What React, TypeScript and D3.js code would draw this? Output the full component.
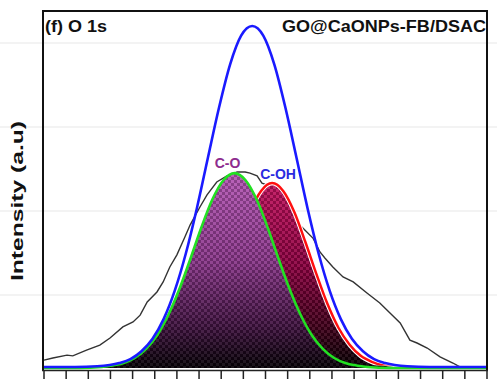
import React from "react";
import * as d3 from "d3";

// Binding energy (eV) and intensity (a.u.)
const envBE = [536, 535.3, 534.8, 534.3, 534.05, 533.8, 533.55, 533.3, 533.05, 532.8, 532.55, 532.3, 532.05, 531.8, 531.55, 531.3, 531.05, 530.8, 530.55, 530.3, 530.05, 529.8, 529.55, 529.3, 529.05, 528.8, 528.55, 528.3, 527.8, 527.3, 526];
const envI = [3, 3, 5, 14, 25, 47, 82, 137, 216, 320, 447, 589, 729, 850, 931, 958, 931, 850, 729, 589, 447, 320, 216, 137, 82, 47, 25, 14, 5, 3, 3];

const coBE = [536, 535.2, 534.7, 534.45, 534.2, 533.95, 533.7, 533.45, 533.2, 532.95, 532.7, 532.45, 532.2, 531.95, 531.7, 531.45, 531.2, 530.95, 530.7, 530.45, 530.2, 529.95, 529.7, 529.45, 529.2, 528.95, 528.7, 528.2, 526];
const coI = [0, 0, 3, 7, 14, 28, 53, 91, 147, 219, 304, 393, 472, 526, 546, 526, 472, 393, 304, 219, 147, 91, 53, 28, 14, 7, 3, 0, 0];

const cohBE = [536, 534.1, 533.6, 533.35, 533.1, 532.85, 532.6, 532.35, 532.1, 531.85, 531.6, 531.35, 531.1, 530.85, 530.6, 530.35, 530.1, 529.85, 529.6, 529.35, 529.1, 528.85, 528.6, 528.35, 528.1, 527.6, 526];
const cohI = [0, 0, 3, 7, 17, 34, 65, 112, 179, 263, 353, 437, 496, 518, 496, 437, 353, 263, 179, 112, 65, 34, 17, 7, 3, 0, 0];

const expBE = [536.0, 535.8, 535.48, 535.35, 535.04, 534.74, 534.51, 534.22, 533.99, 533.83, 533.67, 533.45, 533.31, 533.16, 533.0, 532.82, 532.7, 532.48, 532.32, 532.1, 531.87, 531.64, 531.46, 531.35, 531.19, 531.08, 530.97, 530.79, 530.56, 530.38, 530.18, 529.93, 529.77, 529.66, 529.48, 529.25, 529.02, 528.71, 528.42, 528.19, 527.96, 527.74, 527.58, 527.35, 527.06, 526.77, 526.61, 526.38, 526.2, 526.0];
const expI = [22, 28, 36, 34, 50, 64, 84, 115, 129, 148, 185, 213, 241, 283, 317, 367, 401, 451, 485, 521, 538, 549, 549, 546, 538, 518, 513, 501, 462, 423, 395, 364, 325, 308, 283, 255, 241, 210, 182, 154, 126, 78, 70, 56, 31, 14, 3, 3, 0, 0];

const tickBE = d3.range(0, 21).map((k) => 536 - k * 0.5);
const gridY = [43, 127, 211, 295];

const FONT = "'Liberation Sans', Arial, Helvetica, sans-serif";

export default function App() {
  const x = d3.scaleLinear().domain([536, 526]).range([44, 487]);
  const y = d3.scaleLinear().domain([0, 1000]).range([368, 11]);

  const pts = (be: number[], it: number[]) => be.map((b, i) => [b, it[i]] as [number, number]);
  const env = pts(envBE, envI);
  const co = pts(coBE, coI);
  const coh = pts(cohBE, cohI);
  const exp = pts(expBE, expI);

  const line = d3
    .line<[number, number]>()
    .x((d) => x(d[0]))
    .y((d) => y(d[1]))
    .curve(d3.curveMonotoneX);
  const expLine = d3
    .line<[number, number]>()
    .x((d) => x(d[0]))
    .y((d) => y(d[1]))
    .curve(d3.curveLinear);
  const area = d3
    .area<[number, number]>()
    .x((d) => x(d[0]))
    .y0(y(0))
    .y1((d) => y(d[1]))
    .curve(d3.curveMonotoneX);

  const coPeak = co.reduce((a, b) => (b[1] > a[1] ? b : a));
  const cohPeak = coh.reduce((a, b) => (b[1] > a[1] ? b : a));

  return (
    <svg
      width={497}
      height={379}
      style={{ position: "absolute", left: 0, top: 0, background: "#fff" }}
    >
      <defs>
        <linearGradient id="gCO" x1="0" y1="0" x2="0" y2="1">
          <stop offset="0" stopColor="#b456b4" />
          <stop offset="0.45" stopColor="#8a368a" />
          <stop offset="0.8" stopColor="#3c103c" />
          <stop offset="1" stopColor="#050005" />
        </linearGradient>
        <linearGradient id="gCOH" x1="0" y1="0" x2="0" y2="1">
          <stop offset="0" stopColor="#c2125e" />
          <stop offset="0.45" stopColor="#8c0040" />
          <stop offset="0.8" stopColor="#3c0018" />
          <stop offset="1" stopColor="#050002" />
        </linearGradient>
        <pattern id="checker" width={6} height={6} patternUnits="userSpaceOnUse">
          <rect x={0} y={0} width={3} height={3} fill="rgba(0,0,0,0.22)" />
          <rect x={3} y={3} width={3} height={3} fill="rgba(0,0,0,0.22)" />
          <rect x={3} y={0} width={3} height={3} fill="rgba(255,255,255,0.08)" />
          <rect x={0} y={3} width={3} height={3} fill="rgba(255,255,255,0.08)" />
        </pattern>
        <clipPath id="aboveBase">
          <rect x={0} y={0} width={497} height={365.5} />
        </clipPath>
      </defs>

      {gridY.map((g) => (
        <line key={g} x1={0} x2={497} y1={g} y2={g} stroke="#efefef" strokeWidth={1.5} />
      ))}

      <path d={expLine(exp) || ""} fill="none" stroke="#333" strokeWidth={1.4} />

      <path d={area(coh) || ""} fill="url(#gCOH)" />
      <path d={area(coh) || ""} fill="url(#checker)" />
      <g clipPath="url(#aboveBase)">
        <path d={line(coh) || ""} fill="none" stroke="#fff" strokeWidth={4.5} />
        <path d={line(coh) || ""} fill="none" stroke="#ff1010" strokeWidth={2.5} />
      </g>

      <path d={area(co) || ""} fill="url(#gCO)" />
      <path d={area(co) || ""} fill="url(#checker)" />
      <path d={line(co) || ""} fill="none" stroke="#22e022" strokeWidth={2.6} />

      <path d={line(env) || ""} fill="none" stroke="#1a1aff" strokeWidth={2.6} />

      {/* frame */}
      <line x1={43} x2={43} y1={10} y2={371} stroke="#111" strokeWidth={2} />
      <line x1={42} x2={488} y1={11} y2={11} stroke="#111" strokeWidth={2} />
      <line x1={487} x2={487} y1={10} y2={371} stroke="#111" strokeWidth={2} />
      <line x1={42} x2={488} y1={370.5} y2={370.5} stroke="#222" strokeWidth={1.5} />
      {tickBE.map((t) => (
        <line key={t} x1={x(t)} x2={x(t)} y1={370} y2={379} stroke="#222" strokeWidth={1.5} />
      ))}

      <text x={45} y={31.5} fontFamily={FONT} fontWeight="bold" fontSize={17} textLength={62} lengthAdjust="spacingAndGlyphs" fill="#111">
        (f) O 1s
      </text>
      <text x={282} y={31.5} fontFamily={FONT} fontWeight="bold" fontSize={17} textLength={204} lengthAdjust="spacingAndGlyphs" fill="#111">
        GO@CaONPs-FB/DSAC
      </text>
      <text x={x(coPeak[0]) - 7} y={y(coPeak[1]) - 5} textAnchor="middle" fontFamily={FONT} fontWeight="bold" fontSize={14} fill="#8e2c8e">
        C-O
      </text>
      <text x={x(cohPeak[0]) - 12} y={y(cohPeak[1]) - 4} fontFamily={FONT} fontWeight="bold" fontSize={14} fill="#2a2ae0">
        C-OH
      </text>
      <text
        transform="translate(23,201) rotate(-90)"
        textAnchor="middle"
        fontFamily={FONT}
        fontWeight="bold"
        fontSize={16}
        textLength={160}
        lengthAdjust="spacingAndGlyphs"
        fill="#111"
      >
        Intensity (a.u)
      </text>
    </svg>
  );
}
